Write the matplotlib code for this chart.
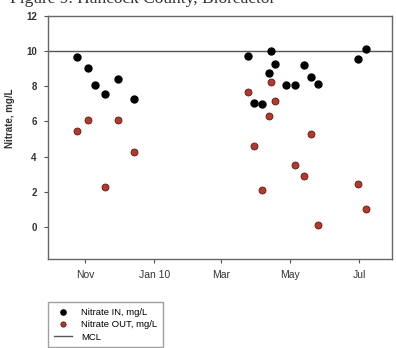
import datetime as dt
import matplotlib
matplotlib.use("Agg")
import matplotlib.pyplot as plt
import matplotlib.dates as mdates

# sampling dates (Oct 2009 - Jul 2010)
in_dates = ["2009-10-25", "2009-11-03", "2009-11-10", "2009-11-18", "2009-11-30",
            "2009-12-14", "2010-03-25", "2010-03-30", "2010-04-06", "2010-04-12",
            "2010-04-14", "2010-04-18", "2010-04-27", "2010-05-05", "2010-05-13",
            "2010-05-19", "2010-05-26", "2010-06-30", "2010-07-07"]
nitrate_in = [9.68, 9.05, 8.05, 7.56, 8.41,
              7.29, 9.73, 7.06, 6.99, 8.77,
              10.02, 9.26, 8.09, 8.07, 9.22,
              8.50, 8.10, 9.55, 10.10]

out_dates = ["2009-10-25", "2009-11-03", "2009-11-18", "2009-11-30", "2009-12-14",
             "2010-03-25", "2010-03-30", "2010-04-06", "2010-04-12", "2010-04-14",
             "2010-04-18", "2010-05-05", "2010-05-13", "2010-05-19", "2010-05-26",
             "2010-06-30", "2010-07-07"]
nitrate_out = [5.45, 6.06, 2.27, 6.08, 4.26,
               7.67, 4.62, 2.12, 6.31, 8.22,
               7.18, 3.54, 2.88, 5.28, 0.11,
               2.46, 1.04]

mcl = 10
tick_dates = ["2009-11-01", "2010-01-01", "2010-03-01", "2010-05-01", "2010-07-01"]
tick_labels = ["Nov", "Jan 10", "Mar", "May", "Jul"]
y_ticks = [0, 2, 4, 6, 8, 10, 12]

to_dt = lambda lst: [dt.datetime.strptime(s, "%Y-%m-%d") for s in lst]

plt.rcParams["font.family"] = ["Liberation Sans", "DejaVu Sans"]

fig = plt.figure(figsize=(3.96, 3.48), dpi=100)
ax = fig.add_axes([0.121, 0.256, 0.869, 0.699])

ax.axhline(mcl, color="#555555", lw=1.0, zorder=1, label="MCL")
ax.plot(to_dt(in_dates), nitrate_in, "o", color="black", ms=5,
        mec="black", label="Nitrate IN, mg/L", zorder=3)
ax.plot(to_dt(out_dates), nitrate_out, "o", color="#b5382c", ms=5,
        mec="#5a1a14", mew=0.6, label="Nitrate OUT, mg/L", zorder=3)

ax.set_xlim(dt.datetime(2009, 9, 29), dt.datetime(2010, 7, 30))
ax.set_ylim(-1.8, 12)
ax.set_yticks(y_ticks)
ax.set_yticklabels([str(v) for v in y_ticks], fontsize=7, fontweight="bold", color="#333333")
ax.set_xticks([mdates.date2num(d) for d in to_dt(tick_dates)])
ax.set_xticklabels(tick_labels, fontsize=7.5, color="#333333")
ax.tick_params(length=3, width=0.8, color="#555555", pad=5)

for sp in ax.spines.values():
    sp.set_color("#666666")
    sp.set_linewidth(1.0)

ax.set_ylabel("Nitrate, mg/L", fontsize=7, fontweight="bold", color="#333333")
ax.yaxis.set_label_coords(-0.096, 0.58)

handles, labels = ax.get_legend_handles_labels()
order = [1, 2, 0]
leg = fig.legend([handles[i] for i in order], [labels[i] for i in order],
                 loc="upper left", bbox_to_anchor=(0.121, 0.131),
                 fontsize=6.8, frameon=True, fancybox=False, markerscale=0.75,
                 handlelength=2.0, handletextpad=0.9, borderpad=0.6,
                 labelspacing=0.35, borderaxespad=0)
leg.get_frame().set_edgecolor("#888888")
leg.get_frame().set_linewidth(1.0)

fig.text(0.025, 1.003, "Figure 9. Hancock County, Bioreactor", fontsize=12.5,
         family="Liberation Serif", va="center", ha="left", color="#333333")

fig.savefig("out.png", dpi=100)
